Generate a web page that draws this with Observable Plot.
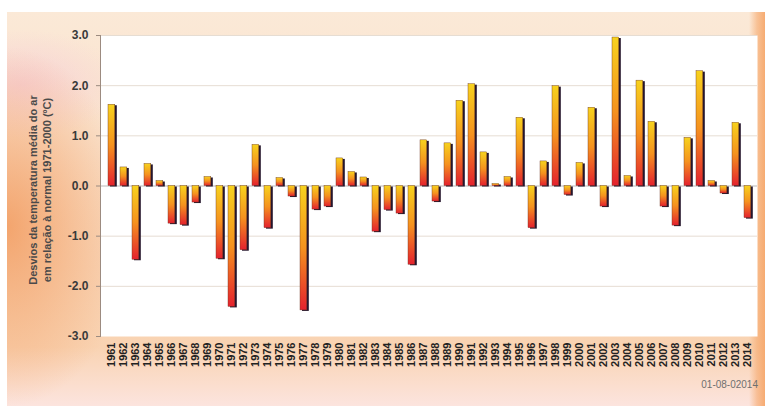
<!DOCTYPE html>
<html>
<head>
<meta charset="utf-8">
<script src="https://cdn.jsdelivr.net/npm/d3@7"></script>
<script src="https://cdn.jsdelivr.net/npm/@observablehq/plot@0.6"></script>
<style>
  body { margin: 0; background: #fff; }
  #wrap { position: relative; width: 768px; height: 409px; overflow: hidden; font-family: "Liberation Sans", Arial, sans-serif; }
  #panel {
    position: absolute; left: 7px; top: 12px; width: 758px; height: 394px;
    background:
      radial-gradient(ellipse 125px 180px at 0px 215px, rgba(242,155,95,0.85), rgba(242,155,95,0) 100%),
      radial-gradient(ellipse 100px 55px at 15px 72px, rgba(246,205,215,0.8), rgba(246,205,215,0) 100%),
      linear-gradient(to left, rgba(246,168,108,0.95) 0px, rgba(246,168,108,0.6) 8px, rgba(246,168,108,0) 16px),
      linear-gradient(to bottom, #fbe9d7 0%, #fae2cc 30%, #f9d8bb 65%, #f9d3b2 85%, #fce4de 100%);
  }
  #chart { position: absolute; left: 0; top: 0; }
  #stamp { position: absolute; right: 10px; top: 379px; font: 10px "Liberation Sans Narrow", "Liberation Sans", Arial, sans-serif; color: #6f6f6f; }
</style>
</head>
<body>
<div id="wrap">
  <div id="panel"></div>
  <div id="chart"></div>
  <div id="stamp">01-08-02014</div>
</div>
<script>
// Annual mean air temperature anomalies (ºC) relative to the 1971-2000 normal
const years = [
  1961, 1962, 1963, 1964, 1965, 1966, 1967, 1968, 1969, 1970,
  1971, 1972, 1973, 1974, 1975, 1976, 1977, 1978, 1979, 1980,
  1981, 1982, 1983, 1984, 1985, 1986, 1987, 1988, 1989, 1990,
  1991, 1992, 1993, 1994, 1995, 1996, 1997, 1998, 1999, 2000,
  2001, 2002, 2003, 2004, 2005, 2006, 2007, 2008, 2009, 2010,
  2011, 2012, 2013, 2014
];
const anomalies = [
   1.62,  0.37, -1.47,  0.44,  0.10, -0.75, -0.78, -0.33,  0.18, -1.45,
  -2.41, -1.28,  0.82, -0.84,  0.16, -0.21, -2.48, -0.47, -0.41,  0.55,
   0.28,  0.17, -0.91, -0.48, -0.55, -1.57,  0.91, -0.31,  0.85,  1.70,
   2.03,  0.67,  0.04,  0.18,  1.36, -0.84,  0.49,  1.99, -0.18,  0.46,
   1.56, -0.41,  2.96,  0.20,  2.10,  1.28, -0.41, -0.79,  0.96,  2.29,
   0.10, -0.15,  1.26, -0.64
];
const yTicks = [-3, -2, -1, 0, 1, 2, 3];
const gridTicks = [-2, -1, 1, 2, 3];
const yTitle = ["Desvios da temperatura média do ar", "em relação à normal 1971-2000 (ºC)"];

const data = years.map((year, i) => ({year: String(year), value: anomalies[i]}));

const chart = Plot.plot({
  width: 768,
  height: 409,
  marginLeft: 100,
  marginRight: 11,
  marginTop: 35,
  marginBottom: 73,
  style: {background: "transparent", fontFamily: "Liberation Sans, Arial, sans-serif", overflow: "visible"},
  x: {type: "band", domain: years.map(String), padding: 0, label: null},
  y: {domain: [-3, 3], label: null},
  marks: [
    Plot.frame({fill: "white", stroke: null}),
    Plot.gridY(gridTicks, {stroke: "#e6ddd3", strokeOpacity: 1}),
    Plot.ruleY([0], {stroke: "#8a8a8a", strokeWidth: 0.6}),
    // drop shadow behind each bar
    Plot.barY(data, {x: "year", y: "value", fill: "#26162c", insetLeft: 5, insetRight: 0.2, dy: 1}),
    // the bars themselves, shaded yellow to red
    Plot.barY(data, {x: "year", y: "value", fill: "url(#barGrad)", insetLeft: 3, insetRight: 2.2, stroke: "#6b3320", strokeWidth: 0.4}),
    Plot.frame({anchor: "left", stroke: "#9c8b80"}),
    Plot.axisY(yTicks, {tickSize: 4, tickPadding: 8, fontSize: 12, fontWeight: "bold", fill: "#3a3a3a", stroke: "#9c8b80", tickFormat: d => d.toFixed(1)}),
    Plot.axisX({tickRotate: -90, tickSize: 0, tickPadding: 6, fontSize: 11, fontWeight: "bold", fill: "#222"})
  ]
});

const svg = d3.select(chart);
const grad = svg.insert("defs", ":first-child")
  .append("linearGradient")
  .attr("id", "barGrad")
  .attr("x1", 0).attr("y1", 0).attr("x2", 0).attr("y2", 1);
grad.append("stop").attr("offset", "0%").attr("stop-color", "#f7d21e");
grad.append("stop").attr("offset", "50%").attr("stop-color", "#f5921f");
grad.append("stop").attr("offset", "100%").attr("stop-color", "#e4222e");

// two-line rotated y-axis title
yTitle.forEach((line, i) => {
  svg.append("text")
    .attr("transform", `translate(${37 + i * 14},190) rotate(-90)`)
    .attr("text-anchor", "middle")
    .attr("font-size", 11)
    .attr("font-weight", "bold")
    .attr("fill", "#4a4a4a")
    .text(line);
});

document.getElementById("chart").appendChild(chart);
</script>
</body>
</html>
